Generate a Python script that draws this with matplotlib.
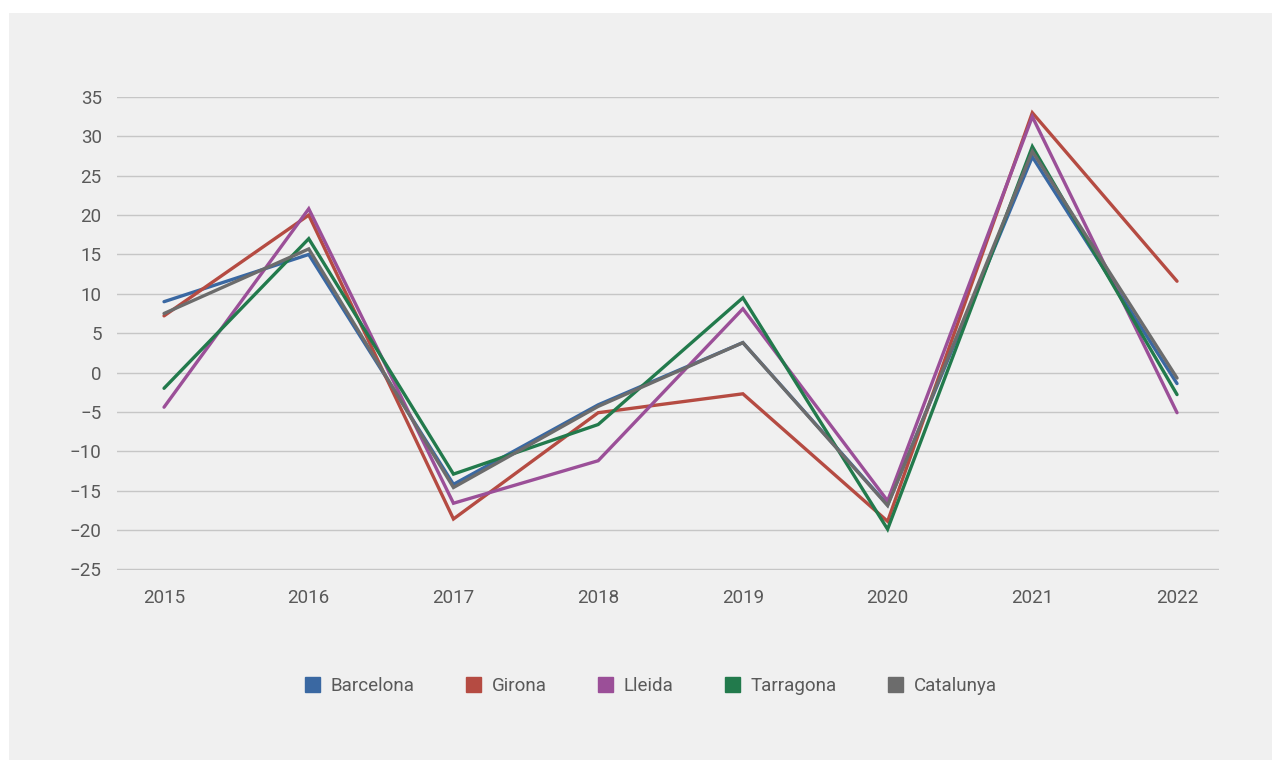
import numpy as np
import matplotlib.pyplot as plt
import matplotlib.patches as mpatches

plt.rcParams['font.family'] = ['Roboto', 'DejaVu Sans']

years = [2015, 2016, 2017, 2018, 2019, 2020, 2021, 2022]

barcelona = [9.0, 15.0, -14.2, -4.1, 3.8, -16.8, 27.4, -1.4]
girona = [7.2, 20.0, -18.6, -5.1, -2.7, -18.9, 33.0, 11.6]
lleida = [-4.4, 20.8, -16.6, -11.2, 8.1, -16.3, 32.5, -5.1]
tarragona = [-2.0, 17.0, -12.9, -6.6, 9.5, -19.9, 28.7, -2.8]
catalunya = [7.5, 15.7, -14.6, -4.3, 3.8, -16.9, 28.1, -0.7]

series = [
    ("Barcelona", barcelona, "#3a68a2"),
    ("Girona", girona, "#b54b42"),
    ("Lleida", lleida, "#9b4f98"),
    ("Tarragona", tarragona, "#227a4c"),
    ("Catalunya", catalunya, "#6c6c6c"),
]

W, H = 1281, 760
fig = plt.figure(figsize=(W / 100, H / 100), dpi=100, facecolor="white")
# grey panel behind the chart
fig.patches.append(mpatches.Rectangle((9 / W, 0), (1272 - 9) / W, (760 - 13) / H,
                                      transform=fig.transFigure, facecolor="#f0f0f0",
                                      edgecolor="none", zorder=-10))

ax = fig.add_axes([117 / W, (H - 570) / H, (1219 - 117) / W, (570 - 97) / H])
ax.set_facecolor("none")

text_col = "#595959"
fs = 13.5
for name, vals, col in series:
    ax.plot(years, vals, color=col, lw=2.4, label=name, solid_capstyle="round",
            solid_joinstyle="miter")

ax.set_ylim(-25.08, 35)
ax.set_yticks(np.arange(-25, 36, 5))
ax.set_yticklabels([str(v).replace("-", "\u2212") for v in range(-25, 36, 5)])
ax.set_xlim(2015 - 0.325, 2022 + 0.29)
ax.set_xticks(years)
ax.grid(axis="y", color="#c6c6c6", lw=1.0)
ax.set_axisbelow(True)
for s in ax.spines.values():
    s.set_visible(False)
ax.tick_params(axis="both", length=0, labelsize=fs, colors=text_col)
ax.tick_params(axis="y", pad=11)
ax.tick_params(axis="x", pad=14)

handles = [mpatches.Patch(color=c, label=n) for n, _, c in series]
leg = fig.legend(handles=handles, loc="center", bbox_to_anchor=(651 / W, (H - 686) / H),
                 ncol=5, frameon=False, fontsize=fs, handlelength=0.8,
                 handleheight=0.8, columnspacing=2.75, handletextpad=0.55)
for t in leg.get_texts():
    t.set_color(text_col)

fig.savefig("out.png", dpi=100, facecolor=fig.get_facecolor())
